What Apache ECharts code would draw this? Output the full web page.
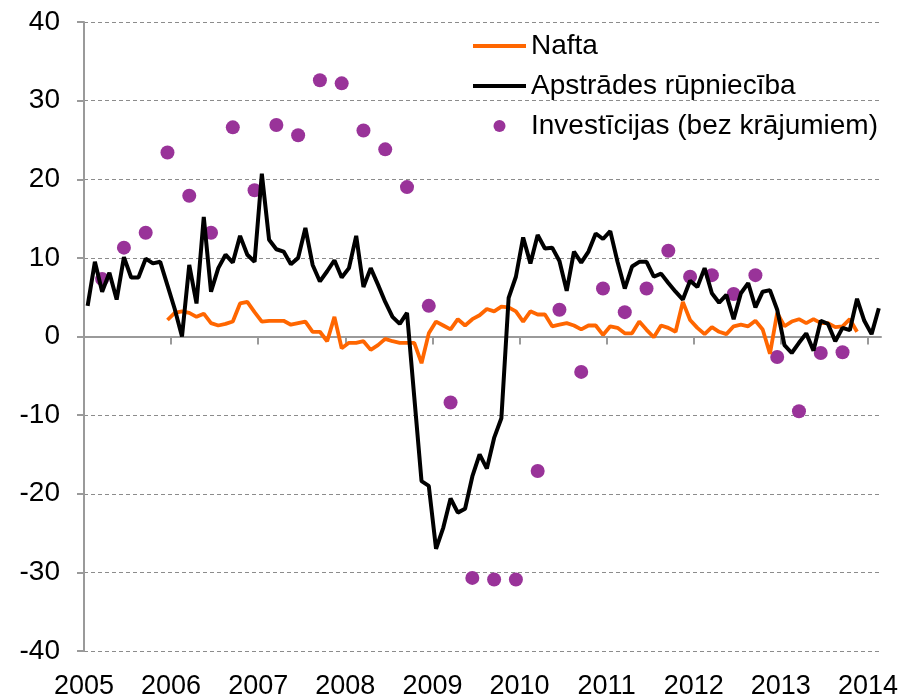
<!DOCTYPE html>
<html>
<head>
<meta charset="utf-8">
<script src="https://cdn.jsdelivr.net/npm/echarts@6/dist/echarts.min.js"></script>
<style>html,body{margin:0;padding:0;background:#fff;}#c{width:910px;height:700px;}</style>
</head>
<body>
<div id="c"></div>
<script>
// Year tick labels
const yearTicks = [2005, 2006, 2007, 2008, 2009, 2010, 2011, 2012, 2013, 2014];

// Series names
const seriesNames = ['Nafta', 'Apstrādes rūpniecība', 'Investīcijas (bez krājumiem)'];

// Apstrādes rūpniecība, monthly, from Jan 2005
const manufStart = [2005, 1];
const manufValues = [
  3.9, 9.5, 5.7, 8.1, 4.7, 10.1, 7.5, 7.5, 9.9, 9.3, 9.5, 6.5,
  3.5, 0.0, 9.1, 4.2, 15.2, 5.7, 8.7, 10.4, 9.4, 12.8, 10.4, 9.5,
  20.7, 12.3, 11.1, 10.8, 9.2, 10.0, 13.8, 9.1, 7.0, 8.3, 9.7, 7.5,
  8.7, 12.8, 6.3, 8.7, 6.6, 4.4, 2.5, 1.6, 3.0, -7.7, -18.4, -19.0,
  -27.0, -24.3, -20.6, -22.4, -21.9, -17.8, -15.0, -16.8, -12.9, -10.4, 4.9, 7.6,
  12.6, 9.3, 12.9, 11.2, 11.3, 9.6, 5.8, 10.8, 9.4, 10.8, 13.1, 12.4,
  13.4, 9.5, 6.1, 8.9, 9.5, 9.5, 7.6, 8.0, 6.8, 5.7, 4.7, 7.1,
  6.3, 8.7, 5.5, 4.3, 5.3, 2.2, 5.5, 6.8, 3.7, 5.7, 5.9, 3.4,
  -1.1, -2.1, -0.8, 0.4, -1.8, 2.0, 1.6, -0.6, 1.1, 0.8, 4.8, 2.0,
  0.3, 3.6
];

// Nafta, monthly, from Dec 2005
const oilStart = [2005, 12];
const oilValues = [
  2.1,
  3.0, 3.2, 3.0, 2.5, 2.9, 1.7, 1.4, 1.6, 1.9, 4.2, 4.4, 3.1,
  1.9, 2.0, 2.0, 2.0, 1.5, 1.7, 1.9, 0.6, 0.6, -0.6, 2.5, -1.5,
  -0.8, -0.8, -0.6, -1.7, -1.1, -0.3, -0.6, -0.8, -0.8, -0.8, -3.4, 0.4,
  1.9, 1.4, 0.9, 2.2, 1.4, 2.2, 2.7, 3.5, 3.2, 3.8, 3.7, 3.2,
  1.9, 3.2, 2.8, 2.8, 1.3, 1.5, 1.7, 1.4, 0.9, 1.4, 1.4, 0.2,
  1.3, 1.1, 0.4, 0.4, 1.9, 0.85, -0.1, 1.4, 1.1, 0.6, 4.4, 2.1,
  1.1, 0.3, 1.2, 0.6, 0.3, 1.3, 1.5, 1.3, 2.0, 0.9, -2.2, 3.0,
  1.3, 1.9, 2.2, 1.7, 2.2, 1.7, 1.7, 1.2, 1.3, 2.2, 0.6
];

// Investīcijas, quarterly (placed at quarter's last month), from Q1 2005
const investStart = [2005, 3];
const investValues = [
  7.3, 11.3, 13.2, 23.4,
  17.9, 13.2, 26.6, 18.6,
  26.9, 25.6, 32.6, 32.2,
  26.2, 23.8, 19.0, 3.9,
  -8.4, -30.7, -30.9, -30.9,
  -17.1, 3.4, -4.5, 6.1,
  3.1, 6.1, 10.9, 7.6,
  7.8, 5.4, 7.8, -2.6,
  -9.5, -2.1, -2.0
];

function monthPos(start, k, step) {
  const idx = (start[1] - 1) + k * step;
  const y = start[0] + Math.floor(idx / 12);
  const m = (idx % 12) + 1;
  return y + (m - 0.5) / 12;
}
function build(start, vals, step) {
  return vals.map((v, i) => [monthPos(start, i, step), v]);
}

const FONT = '"Liberation Sans", Arial, sans-serif';
const AXIS_GRAY = '#9a9a9a';
const X_MIN = 2005, X_MAX = 2014.15;
const LINE_ICON = 'path://M0,0L100,0L100,7.5L0,7.5Z';

const chart = echarts.init(document.getElementById('c'), null, {renderer: 'canvas'});
chart.setOption({
  animation: false,
  backgroundColor: '#fff',
  textStyle: {fontFamily: FONT},
  grid: {left: 84, right: 29, top: 22, bottom: 49, containLabel: false},
  legend: {
    orient: 'vertical',
    left: 468,
    top: 26,
    itemWidth: 53,
    itemHeight: 12,
    itemGap: 10,
    data: [
      {name: seriesNames[0], icon: LINE_ICON},
      {name: seriesNames[1], icon: LINE_ICON},
      {name: seriesNames[2], icon: 'circle'}
    ],
    textStyle: {fontSize: 28, color: '#000', fontFamily: FONT, lineHeight: 30}
  },
  xAxis: [
    {
      type: 'value', min: X_MIN, max: X_MAX, position: 'bottom',
      axisLine: {show: false, onZero: false},
      axisTick: {show: false},
      splitLine: {show: false},
      axisLabel: {
        customValues: yearTicks,
        formatter: v => String(Math.round(v)),
        fontSize: 27, color: '#000', margin: 22, fontFamily: FONT
      }
    },
    {
      type: 'value', min: X_MIN, max: X_MAX, position: 'top',
      axisLine: {show: true, onZero: true, lineStyle: {color: AXIS_GRAY, width: 2}},
      axisTick: {show: true, inside: true, length: 8, customValues: yearTicks, lineStyle: {color: AXIS_GRAY, width: 2}},
      axisLabel: {show: false},
      splitLine: {show: false}
    }
  ],
  yAxis: {
    type: 'value', min: -40, max: 40, interval: 10,
    axisLine: {show: true, onZero: false, lineStyle: {color: AXIS_GRAY, width: 2}},
    axisTick: {show: true, length: 7, lineStyle: {color: AXIS_GRAY, width: 2}},
    axisLabel: {fontSize: 28, color: '#000', margin: 24, fontFamily: FONT},
    splitLine: {show: true, lineStyle: {color: '#8c8c8c', width: 1, type: [4, 3]}}
  },
  series: [
    {
      name: seriesNames[0], type: 'line', xAxisIndex: 0,
      data: build(oilStart, oilValues, 1),
      symbol: 'none', lineStyle: {color: '#ff6600', width: 3.8}, itemStyle: {color: '#ff6600'}
    },
    {
      name: seriesNames[1], type: 'line', xAxisIndex: 0,
      data: build(manufStart, manufValues, 1),
      symbol: 'none', lineStyle: {color: '#000000', width: 4}, itemStyle: {color: '#000000'}
    },
    {
      name: seriesNames[2], type: 'scatter', xAxisIndex: 0,
      data: build(investStart, investValues, 3),
      symbol: 'circle', symbolSize: 14, itemStyle: {color: '#993399', opacity: 1}
    }
  ]
});
</script>
</body>
</html>
